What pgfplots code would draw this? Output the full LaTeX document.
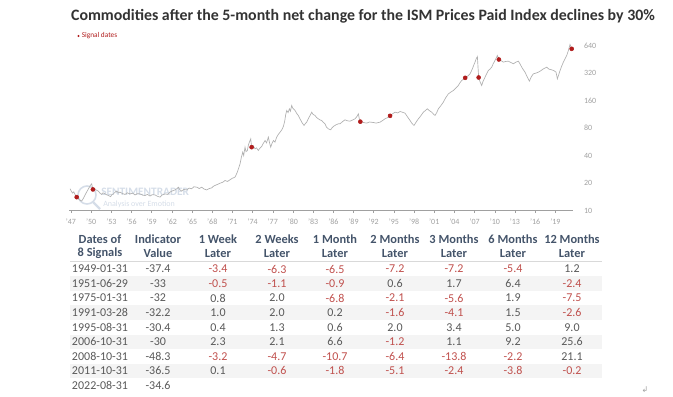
\documentclass[border=0pt]{standalone}
\usepackage{pgfplots}
\pgfplotsset{compat=1.18}
\usepackage{fontspec}
\setmainfont{Carlito}
\newfontfamily\dejavu{DejaVu Sans}
\definecolor{titlegray}{HTML}{333333}
\definecolor{hdr}{HTML}{44546A}
\definecolor{txtgray}{HTML}{595959}
\definecolor{negred}{HTML}{C0504D}
\definecolor{dotred}{HTML}{B01C1C}
\definecolor{linegray}{HTML}{B0B0B0}
\definecolor{tickgray}{HTML}{A0A0A0}
\definecolor{rowshade}{HTML}{F4F4F4}
\definecolor{wm}{HTML}{D5DDE8}
\newcommand{\cv}[1]{\ifdim #1pt<0pt\textcolor{negred}{#1}\else\textcolor{txtgray}{#1}\fi}
\begin{document}
\begin{tikzpicture}
\path[use as bounding box] (0,0) rectangle (504.75pt,-297pt);
% watermark (behind)
\begin{scope}[x=0.75pt,y=-0.75pt]
\draw[wm,line width=1.2pt] (87,195) circle (9);
\draw[wm,line width=1.8pt] (93,202) -- (100,209);
\node[text=wm,font=\fontsize{8.5}{9}\selectfont\bfseries,anchor=west,inner sep=0] at (101,192) {SENTIMENTRADER};
\node[text=wm,font=\fontsize{6}{7}\selectfont,anchor=west,inner sep=0] at (103,204) {Analysis over Emotion};
\end{scope}
\begin{axis}[
  at={(52.07pt,-157.875pt)}, anchor=south west,
  scale only axis, width=377.4pt, height=126.42pt,
  xmin=1948.0, xmax=2022.8,
  ymode=log, ymin=10, ymax=700,
  clip=false,
  axis x line*=bottom, axis y line*=right,
  y axis line style={draw=none},
  x axis line style={draw=tickgray, line width=0.5pt},
  xtick={1948.23,1951.23,1954.23,1957.23,1960.23,1963.23,1966.23,1969.23,1972.23,1975.23,1978.23,1981.23,1984.23,1987.23,1990.23,1993.23,1996.23,1999.23,2002.23,2005.23,2008.23,2011.23,2014.23,2017.23,2020.23},
  xticklabels={'47,'50,'53,'56,'59,'62,'65,'68,'71,'74,'77,'80,'83,'86,'89,'92,'95,'98,'01,'04,'07,'10,'13,'16,'19},
  ytick={10,20,40,80,160,320,640},
  yticklabels={10,20,40,80,160,320,640},
  yticklabel pos=right,
  tick align=outside,
  major tick length=2pt,
  xtick style={draw=tickgray, line width=0.4pt},
  ytick style={draw=none},
  minor tick num=0,
  log basis y=2,
  tick label style={font=\fontsize{6}{7}\selectfont, text=tickgray},
  xticklabel style={yshift=-1pt},
  yticklabel style={anchor=west, xshift=3pt},
]
\addplot[linegray, line width=0.5pt] coordinates {
(1948.09,17.3)(1948.3,16.2)(1948.48,15.5)(1948.65,16.0)(1948.83,15.0)(1949.08,14.0)(1949.3,13.5)(1949.47,13.1)(1949.82,12.7)
(1950.0,13.3)(1950.17,14.0)(1950.4,15.2)(1950.56,15.9)(1950.96,18.0)(1951.15,19.0)(1951.31,19.6)(1951.49,17.0)(1951.7,17.5)(1951.95,16.8)
(1952.30,16.3)(1952.5,15.6)(1952.79,15.0)(1953.0,15.6)(1953.29,15.2)(1953.5,14.9)(1953.79,14.6)(1954.13,14.2)(1954.3,14.9)(1954.53,15.2)
(1954.8,15.9)(1955.02,16.3)(1955.3,15.6)(1955.52,15.9)(1955.9,15.3)(1956.26,15.0)(1956.6,15.6)(1957.01,15.2)(1957.4,15.5)(1957.75,14.8)
(1958.1,15.3)(1958.49,15.2)(1958.9,14.7)(1959.24,14.6)(1959.6,15.0)(1959.98,14.4)(1960.3,14.9)(1960.72,14.8)(1961.1,14.3)(1961.47,14.0)
(1961.8,14.8)(1962.21,15.2)(1962.6,15.0)(1962.95,15.9)(1963.3,16.4)(1963.70,16.8)(1964.0,17.4)(1964.19,18.0)(1964.4,16.9)(1964.69,16.3)
(1965.0,17.0)(1965.43,16.8)(1965.8,17.6)(1966.17,17.3)(1966.5,18.2)(1966.92,18.0)(1967.3,17.4)(1967.66,18.0)(1968.0,17.2)(1968.40,16.8)
(1968.8,17.4)(1969.15,17.7)(1969.4,18.4)(1969.64,18.8)(1970.0,19.3)(1970.39,19.9)(1970.8,20.4)(1971.13,21.3)(1971.5,20.8)(1971.87,21.7)
(1972.2,22.5)(1972.62,23.2)(1972.96,26.3)(1973.15,29.0)(1973.36,32.4)(1973.55,38.0)(1973.76,43.5)(1973.9,40.0)(1974.10,49.3)(1974.25,44.0)
(1974.45,45.4)(1974.6,52.0)(1974.75,56.0)(1974.95,60.9)(1975.08,49.3)(1975.3,51.5)(1975.59,47.3)(1975.8,48.5)(1976.08,45.4)(1976.3,48.0)
(1976.58,50.2)(1976.8,54.0)(1977.08,58.4)(1977.3,55.0)(1977.57,63.5)(1977.75,55.0)(1977.92,49.3)(1978.1,54.0)(1978.32,58.4)(1978.55,56.0)
(1978.81,63.5)(1979.05,68.0)(1979.31,72.0)(1979.55,76.0)(1979.80,83.1)(1980.0,95.0)(1980.15,112.0)(1980.30,124.4)(1980.5,118.0)(1980.69,129.7)
(1980.85,122.0)(1981.04,141.1)(1981.2,132.0)(1981.54,124.4)(1981.8,115.0)(1982.03,109.6)(1982.3,100.0)(1982.53,92.7)(1982.87,85.2)(1983.05,89.0)
(1983.27,92.7)(1983.5,101.0)(1983.77,109.6)(1984.01,119.2)(1984.2,113.0)(1984.51,109.6)(1984.75,104.0)(1985.00,100.8)(1985.25,98.0)(1985.50,96.7)
(1985.75,92.0)(1985.99,88.9)(1986.2,82.0)(1986.49,78.3)(1986.84,76.4)(1987.0,80.0)(1987.23,83.1)(1987.6,86.5)(1987.98,88.9)(1988.22,88.9)
(1988.6,94.0)(1988.96,98.3)(1989.3,96.0)(1989.71,95.0)(1990.1,98.0)(1990.45,100.8)(1990.7,106.0)(1990.95,114.3)(1991.1,100.0)(1991.24,93.8)
(1991.7,92.0)(1992.18,90.4)(1992.6,93.0)(1993.18,91.9)(1993.6,90.5)(1994.17,92.7)(1994.5,96.0)(1994.91,100.8)(1995.3,104.0)(1995.66,108.7)
(1996.0,114.0)(1996.40,119.2)(1996.8,117.0)(1997.14,121.3)(1997.5,119.0)(1997.88,116.3)(1998.25,106.0)(1998.63,96.7)(1998.9,90.0)(1999.22,85.2)
(1999.5,92.0)(1999.87,100.8)(2000.2,108.0)(2000.61,119.2)(2000.9,124.0)(2001.20,129.7)(2001.5,124.0)(2001.85,119.2)(2002.1,114.0)(2002.34,109.6)
(2002.6,118.0)(2002.84,129.7)(2003.2,140.0)(2003.58,153.4)(2003.9,170.0)(2004.33,189.3)(2004.7,198.0)(2005.07,205.9)(2005.4,218.0)(2005.81,233.5)
(2006.05,250.0)(2006.31,264.9)(2006.55,272.0)(2006.83,283.3)(2007.2,296.0)(2007.55,313.4)(2007.9,355.0)(2008.1,390.0)(2008.29,420.5)(2008.45,455.0)
(2008.64,485.0)(2008.83,285.7)(2009.05,255.0)(2009.28,233.5)(2009.5,262.0)(2009.78,288.1)(2010.0,312.0)(2010.27,340.8)(2010.5,352.0)(2010.77,370.7)
(2011.0,405.0)(2011.26,438.6)(2011.45,470.0)(2011.61,497.4)(2011.83,449.7)(2012.1,440.0)(2012.50,420.5)(2012.85,428.0)(2013.24,431.1)(2013.6,418.0)
(2013.99,403.2)(2014.35,420.0)(2014.73,431.1)(2015.0,400.0)(2015.23,370.7)(2015.5,345.0)(2015.72,326.7)(2016.05,290.0)(2016.37,260.5)(2016.65,290.0)
(2016.96,313.4)(2017.3,318.0)(2017.70,326.7)(2018.1,340.0)(2018.45,355.5)(2018.7,362.0)(2018.94,370.7)(2019.3,352.0)(2019.69,346.6)(2020.0,340.0)
(2020.33,326.7)(2020.53,276.3)(2020.75,310.0)(2020.93,340.8)(2021.2,385.0)(2021.42,420.5)(2021.7,462.0)(2021.92,497.4)(2022.15,560.0)(2022.41,656.0)
(2022.66,588.5)
};
\addplot[only marks, mark=*, mark size=1.5pt, color=dotred] coordinates {
(1949.08,14.0)(1951.49,17.0)(1975.08,49.3)(1991.24,93.8)(1995.66,108.7)(2006.83,283.3)(2008.83,285.7)(2011.83,449.7)(2022.66,588.5)
};
\end{axis}
\begin{scope}[x=0.75pt,y=-0.75pt]
% title
\node[text=titlegray,font=\fontsize{11.9}{13}\selectfont\bfseries] at (363,16) {Commodities after the 5-month net change for the ISM Prices Paid Index declines by 30\%};
% legend
\fill[dotred] (78.5,36) circle (1.2);
\node[text=dotred,font=\fontsize{5.5}{6}\selectfont,anchor=west,inner sep=0] at (81.5,36) {Signal dates};
% table shading
\foreach \r in {1,3,5,7}{
  \pgfmathsetmacro\ya{269+\r*14.56-7.28}
  \pgfmathsetmacro\yb{269+\r*14.56+7.28}
  \fill[fill=rowshade] (70,\ya) rectangle (602,\yb);
}
\draw[draw={rgb,255:red,217;green,217;blue,217},line width=0.6pt] (70,261) -- (602,261);
% headers
\foreach \x/\a/\b in {100/Dates of/8 Signals,158/Indicator/Value,218/1 Week/Later,277/2 Weeks/Later,335/1 Month/Later,395/2 Months/Later,454/3 Months/Later,513/6 Months/Later,572/12 Months/Later}{
  \node[text=hdr,font=\fontsize{9.3}{10}\selectfont\bfseries] at (\x,239) {\a};
  \node[text=hdr,font=\fontsize{9.3}{10}\selectfont\bfseries] at (\x,253.5) {\b};
}
% rows
\foreach \dt/\iv/\va/\vb/\vc/\vd/\ve/\vf/\vg [count=\r from 0] in {
 1949-01-31/-37.4/-3.4/-6.3/-6.5/-7.2/-7.2/-5.4/1.2,
 1951-06-29/-33/-0.5/-1.1/-0.9/0.6/1.7/6.4/-2.4,
 1975-01-31/-32/0.8/2.0/-6.8/-2.1/-5.6/1.9/-7.5,
 1991-03-28/-32.2/1.0/2.0/0.2/-1.6/-4.1/1.5/-2.6,
 1995-08-31/-30.4/0.4/1.3/0.6/2.0/3.4/5.0/9.0,
 2006-10-31/-30/2.3/2.1/6.6/-1.2/1.1/9.2/25.6,
 2008-10-31/-48.3/-3.2/-4.7/-10.7/-6.4/-13.8/-2.2/21.1,
 2011-10-31/-36.5/0.1/-0.6/-1.8/-5.1/-2.4/-3.8/-0.2}{
  \pgfmathsetmacro\yy{269+\r*14.56}
  \begin{scope}[every node/.style={font=\fontsize{9}{10}\selectfont}]
  \node[text=txtgray] at (100,\yy) {\dt};
  \node[text=txtgray] at (158,\yy) {\iv};
  \node at (218,\yy) {\cv{\va}};
  \node at (277,\yy) {\cv{\vb}};
  \node at (335,\yy) {\cv{\vc}};
  \node at (395,\yy) {\cv{\vd}};
  \node at (454,\yy) {\cv{\ve}};
  \node at (513,\yy) {\cv{\vf}};
  \node at (572,\yy) {\cv{\vg}};
  \end{scope}
}
\node[text=txtgray,font=\fontsize{9}{10}\selectfont] at (100,385.5) {2022-08-31};
\node[text=txtgray,font=\fontsize{9}{10}\selectfont] at (158,385.5) {-34.6};
\node[text=tickgray,font=\dejavu\fontsize{6}{6}\selectfont] at (645,390) {↲};
\end{scope}
\end{tikzpicture}
\end{document}
